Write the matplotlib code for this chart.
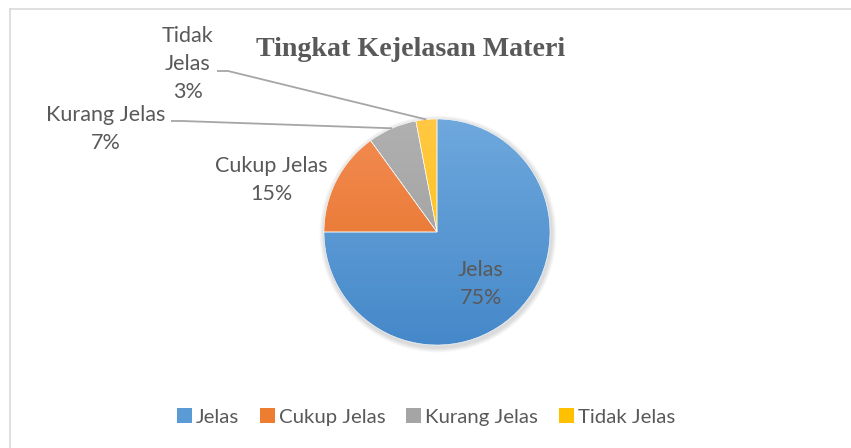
import matplotlib
matplotlib.use("Agg")
import matplotlib.pyplot as plt
import numpy as np
from matplotlib.colors import to_rgb
from matplotlib.lines import Line2D
from matplotlib.patches import Patch, Circle

# data
labels = ["Jelas", "Cukup Jelas", "Kurang Jelas", "Tidak Jelas"]
values = [75, 15, 7, 3]
colors = ["#5B9BD5", "#ED7D31", "#A5A5A5", "#FFC000"]
top_colors = ["#6EA8DD", "#F28C53", "#B0B0B0", "#FFC844"]
bot_colors = ["#4588C9", "#E56E22", "#9B9B9B", "#FFC000"]
title = "Tingkat Kejelasan Materi"

W, H = 851, 448
fig = plt.figure(figsize=(W / 100, H / 100), dpi=100)
ax = fig.add_axes([0, 0, 1, 1])
ax.set_aspect("equal")

txt_col = "#595959"
cx, cy, r = 437, H - 232, 113

# soft shadow
for k in range(6):
    ax.add_patch(Circle((cx + 1, cy - 2), r + 1.5 + k * 0.8, color="black",
                        alpha=0.025, lw=0, zorder=1))

wedges, _ = ax.pie(values, colors=colors, startangle=90, counterclock=False,
                   center=(cx, cy), radius=r, frame=True,
                   wedgeprops=dict(edgecolor="white", linewidth=0.4))
ax.set_xlim(0, W)
ax.set_ylim(0, H)
ax.axis("off")

# gradient fill for each wedge
grad = np.linspace(0, 1, 256)[:, None]
for w, c1, c2 in zip(wedges, top_colors, bot_colors):
    a, b = np.array(to_rgb(c1)), np.array(to_rgb(c2))
    img = a[None, None, :] * (1 - grad[:, :, None]) + b[None, None, :] * grad[:, :, None]
    im = ax.imshow(img, extent=(cx - r, cx + r, cy - r, cy + r), origin="upper",
                   aspect="auto", zorder=2)
    im.set_clip_path(w)
    w.set_zorder(3)
    w.set_facecolor("none")
ax.set_xlim(0, W)
ax.set_ylim(0, H)

# labels
fs = 15.5
lab_font = "Lato"
pos = [(481, 284), (271, 180), (106, 129), (188, 64)]
for lab, v, (x, y) in zip(labels, values, pos):
    s = lab + "\n" + f"{v}%"
    if lab == "Tidak Jelas":
        s = "Tidak\nJelas\n" + f"{v}%"
    ax.text(x, H - y, s, ha="center", va="center", fontsize=fs, color=txt_col,
            family=lab_font, linespacing=1.48, zorder=5)

# leader lines for the small slices
lead_starts = {2: (171, 121), 3: (217, 71)}
for i, (sx, sy) in lead_starts.items():
    w = wedges[i]
    ang = np.deg2rad((w.theta1 + w.theta2) / 2)
    ex, ey = cx + r * np.cos(ang), cy + r * np.sin(ang)
    ax.plot([sx, sx + 11, ex], [H - sy, H - sy, ey], color="#A6A6A6", lw=1.3,
            zorder=4, solid_capstyle="butt")

# title
ax.text(411, H - 49, title, ha="center", va="center", fontsize=20.2,
        fontweight="bold", family="Liberation Serif", color=txt_col)

# legend
handles = [Patch(facecolor=c, edgecolor="none") for c in colors]
leg = ax.legend(handles, labels, loc="center", bbox_to_anchor=(426 / W, 1 - 417 / H),
                ncol=4, frameon=False, handlelength=0.75, handleheight=0.75,
                handletextpad=0.2, columnspacing=1.0,
                prop=dict(family=lab_font, size=14.7))
for t in leg.get_texts():
    t.set_color(txt_col)

# chart border (top and left edges visible)
fig.add_artist(Line2D([9.5 / W, 1], [1 - 9.5 / H, 1 - 9.5 / H], color="#D9D9D9", lw=1.2))
fig.add_artist(Line2D([9.5 / W, 9.5 / W], [0, 1 - 9.5 / H], color="#D9D9D9", lw=1.2))

fig.savefig("out.png", dpi=100, facecolor="white")
